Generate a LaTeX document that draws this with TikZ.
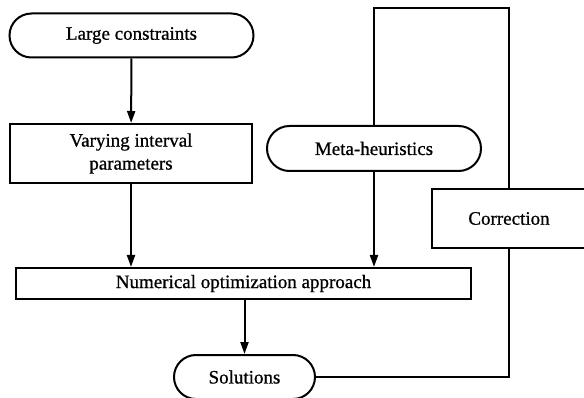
\documentclass[tikz,border=0pt]{standalone}
\usepackage{fontspec}
\setmainfont{Liberation Serif}[FakeBold=0.8]
\usetikzlibrary{shapes.misc,arrows.meta}
\begin{document}
\begin{tikzpicture}[x=1pt,y=-1pt,
    line width=2pt,
    every node/.style={font=\fontsize{19}{23}\selectfont, inner sep=0pt},
    termbox/.style={draw, rounded rectangle, minimum height=44pt},
    procbox/.style={draw, rectangle, align=center},
    flow/.style={-{Triangle[width=8pt,length=12pt]}}]
    \useasboundingbox (0,0) rectangle (584,398);
    \node[termbox, minimum width=244pt] (large) at (131.5,35.5) {Large constraints};
    \node[procbox, minimum width=242pt, minimum height=59pt] (vary) at (131,153.5) {Varying interval\\parameters};
    \node[termbox, minimum width=214pt, minimum height=45pt] (meta) at (374,148.5) {Meta-heuristics};
    \node[procbox, minimum width=455pt, minimum height=31pt] (numer) at (243.5,283.5) {Numerical optimization approach};
    \node[procbox, minimum width=154pt, minimum height=59pt] (corr) at (509,218.5) {Correction};
    \node[termbox, minimum width=141pt] (sol) at (244.5,377) {Solutions};
    \coordinate (fbtop) at (509,8);
    \draw[flow] (large) -- (vary);
    \draw[flow] (vary.south) -- (vary.south |- numer.north);
    \draw[flow] (meta.south) -- (meta.south |- numer.north);
    \draw[flow] (numer.south -| sol.north) -- (sol.north);
    \draw (meta.north) |- (fbtop) -- (corr.north);
    \draw (corr.south) |- (sol.east);
\end{tikzpicture}
\end{document}
